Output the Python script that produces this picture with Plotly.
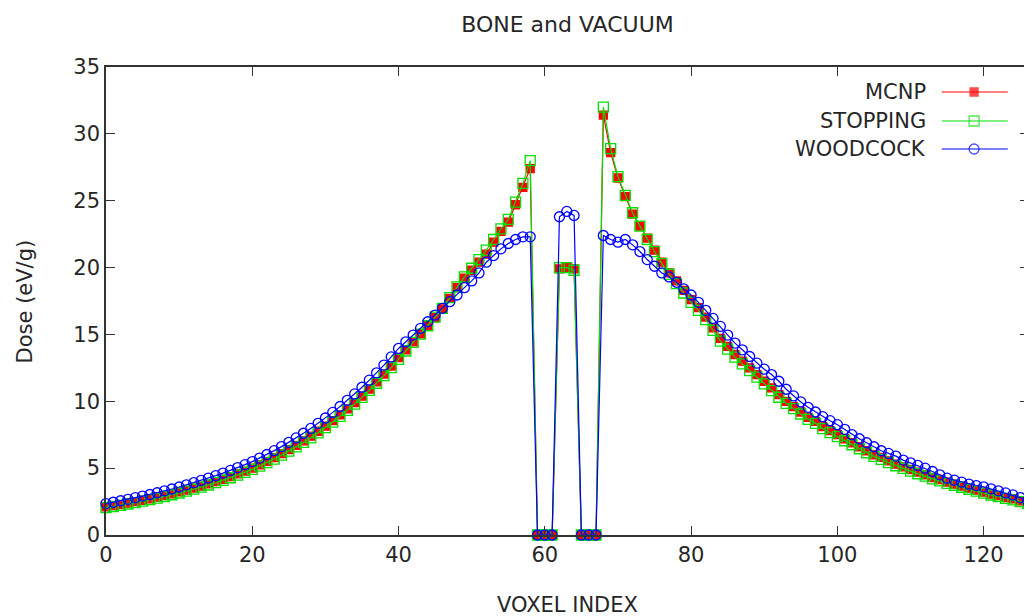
import plotly.graph_objects as go

voxel = list(range(128))

mcnp = [
    2.10, 2.19, 2.28, 2.38, 2.49, 2.60, 2.71, 2.83, 2.95, 3.08,
    3.22, 3.36, 3.51, 3.66, 3.82, 3.99, 4.17, 4.36, 4.57, 4.78,
    5.00, 5.25, 5.51, 5.79, 6.08, 6.38, 6.70, 7.04, 7.39, 7.76,
    8.14, 8.55, 8.98, 9.43, 9.90, 10.39, 10.91, 11.46, 12.03, 12.63,
    13.27, 13.85, 14.45, 15.05, 15.65, 16.25, 16.90, 17.70, 18.50, 19.20,
    19.80, 20.40, 21.00, 21.90, 22.70, 23.40, 24.70, 26.00, 27.40,
    0.0, 0.0, 0.0,
    19.90, 20.00, 19.90,
    0.0, 0.0, 0.0,
    31.40, 28.60, 26.70, 25.30, 24.00, 23.10, 22.20, 21.30, 20.40, 19.60,
    19.00, 18.30, 17.60, 17.00, 16.30, 15.50, 14.70, 14.10, 13.50, 13.00,
    12.50, 12.00, 11.50, 11.00, 10.50, 10.00, 9.60, 9.20, 8.80, 8.50,
    8.10, 7.80, 7.50, 7.20, 6.90, 6.60, 6.30, 6.00, 5.80, 5.55,
    5.30, 5.10, 4.90, 4.70, 4.50, 4.30, 4.15, 3.95, 3.80, 3.65,
    3.50, 3.35, 3.20, 3.05, 2.95, 2.80, 2.70, 2.55, 2.40, 2.30,
]

stopping = [
    2.05, 2.13, 2.22, 2.32, 2.42, 2.53, 2.64, 2.76, 2.88, 3.01,
    3.14, 3.28, 3.43, 3.58, 3.74, 3.91, 4.09, 4.28, 4.48, 4.69,
    4.91, 5.15, 5.41, 5.68, 5.97, 6.27, 6.59, 6.92, 7.27, 7.64,
    8.03, 8.44, 8.87, 9.32, 9.79, 10.29, 10.81, 11.35, 11.92, 12.52,
    13.14, 13.76, 14.40, 15.02, 15.65, 16.30, 16.95, 17.75, 18.55, 19.30,
    19.95, 20.60, 21.30, 22.10, 22.90, 23.60, 24.90, 26.30, 28.00,
    0.0, 0.0, 0.0,
    20.00, 20.00, 19.80,
    0.0, 0.0, 0.0,
    32.00, 28.90, 26.80, 25.40, 24.10, 23.10, 22.10, 21.20, 20.30, 19.50,
    18.80, 18.10, 17.40, 16.80, 16.10, 15.30, 14.50, 13.90, 13.30, 12.80,
    12.30, 11.80, 11.30, 10.80, 10.30, 9.85, 9.45, 9.05, 8.65, 8.35,
    7.95, 7.65, 7.35, 7.05, 6.75, 6.45, 6.15, 5.88, 5.65, 5.42,
    5.18, 4.98, 4.78, 4.58, 4.40, 4.20, 4.05, 3.86, 3.72, 3.57,
    3.42, 3.28, 3.13, 2.99, 2.88, 2.74, 2.63, 2.49, 2.35, 2.25,
]

woodcock = [
    2.35, 2.45, 2.56, 2.67, 2.79, 2.91, 3.03, 3.16, 3.30, 3.44,
    3.59, 3.75, 3.91, 4.08, 4.26, 4.44, 4.63, 4.83, 5.04, 5.26,
    5.49, 5.75, 6.02, 6.31, 6.61, 6.93, 7.26, 7.61, 7.97, 8.35,
    8.75, 9.17, 9.61, 10.07, 10.55, 11.05, 11.58, 12.13, 12.71, 13.32,
    13.95, 14.45, 14.95, 15.45, 15.95, 16.45, 16.95, 17.45, 17.95, 18.50,
    19.00, 19.60, 20.40, 20.90, 21.40, 21.80, 22.10, 22.30, 22.30,
    0.0, 0.0, 0.0,
    23.80, 24.20, 23.90,
    0.0, 0.0, 0.0,
    22.40, 22.10, 21.90, 22.10, 21.70, 21.20, 20.60, 20.10, 19.60, 19.30,
    18.90, 18.40, 17.95, 17.40, 16.80, 16.20, 15.60, 14.95, 14.35, 13.85,
    13.35, 12.85, 12.40, 12.00, 11.50, 10.90, 10.40, 9.95, 9.55, 9.20,
    8.85, 8.55, 8.25, 7.90, 7.50, 7.20, 6.90, 6.60, 6.30, 6.10,
    5.90, 5.60, 5.40, 5.20, 5.00, 4.75, 4.50, 4.25, 4.10, 3.95,
    3.80, 3.70, 3.60, 3.45, 3.30, 3.15, 3.00, 2.80, 2.55, 2.45,
]

series_names = ["MCNP", "STOPPING", "WOODCOCK"]
series_values = [mcnp, stopping, woodcock]
x_ticks = [0, 20, 40, 60, 80, 100, 120]
y_ticks = [0, 5, 10, 15, 20, 25, 30, 35]

styles = [
    dict(color="#ff0000", symbol="square", size=8),
    dict(color="#00e000", symbol="square-open", size=10),
    dict(color="#0000ff", symbol="circle-open", size=10),
]

FONT = "DejaVu Sans"
TXT = "#262626"
AX = "#333333"
FS = 21

fig = go.Figure()
for name, vals, st in zip(series_names, series_values, styles):
    fig.add_trace(go.Scatter(
        x=voxel, y=vals, name=name, mode="lines+markers",
        line=dict(color=st["color"], width=1.2),
        marker=dict(symbol=st["symbol"], size=st["size"], color=st["color"],
                    line=dict(color=st["color"], width=1.3)),
        cliponaxis=False, showlegend=False,
    ))

# custom gnuplot-style legend (text on the left, sample on the right)
leg_y = [0.9466, 0.8846, 0.8248]
for name, st, yy in zip(series_names, styles, leg_y):
    fig.add_trace(go.Scatter(
        x=[0.9055, 0.9405, 0.977], y=[yy, yy, yy], xaxis="x2", yaxis="y2",
        mode="lines+markers",
        line=dict(color=st["color"], width=1.2),
        marker=dict(symbol=st["symbol"], size=[0, st["size"], 0], color=st["color"],
                    line=dict(color=st["color"], width=1.3)),
        showlegend=False, hoverinfo="skip", cliponaxis=False,
    ))
    fig.add_annotation(x=0.891, y=yy, xref="paper", yref="paper", text=name,
                       showarrow=False, xanchor="right", yanchor="middle",
                       font=dict(family=FONT, size=FS, color=TXT))

fig.add_annotation(x=0.5, y=-0.1496, xref="paper", yref="paper", text="VOXEL INDEX",
                   showarrow=False, xanchor="center", yanchor="middle",
                   font=dict(family=FONT, size=FS, color=TXT))
fig.add_annotation(x=-0.0873, y=0.5, xref="paper", yref="paper", text="Dose (eV/g)",
                   showarrow=False, xanchor="center", yanchor="middle", textangle=-90,
                   font=dict(family=FONT, size=FS, color=TXT))

# the page body has a small margin: shrink the figure so the plot box lands
# where the reference puts it
fig.update_layout(
    width=1024, height=608,
    margin=dict(l=98, r=1, t=59, b=81),
    paper_bgcolor="white", plot_bgcolor="white",
    title=dict(text="BONE and VACUUM", x=0.5, xref="paper", xanchor="center",
               y=1 - 16 / 608, yref="container", yanchor="middle",
               font=dict(family=FONT, size=22, color=TXT)),
    font=dict(family=FONT, size=FS, color=TXT),
    xaxis=dict(range=[0, 126.2], tickvals=x_ticks, ticks="inside", ticklen=9,
               tickwidth=1.2, tickcolor=AX, showline=True, linecolor=AX, linewidth=1.5,
               mirror="ticks", showgrid=False, zeroline=False,
               tickfont=dict(family=FONT, size=FS, color=TXT)),
    yaxis=dict(range=[0, 35], tickvals=y_ticks, ticks="inside", ticklen=9,
               tickwidth=1.2, tickcolor=AX, showline=True, linecolor=AX, linewidth=1.5,
               mirror="ticks", showgrid=False, zeroline=False,
               tickfont=dict(family=FONT, size=FS, color=TXT)),
    xaxis2=dict(overlaying="x", range=[0, 1], visible=False, fixedrange=True),
    yaxis2=dict(overlaying="y", range=[0, 1], visible=False, fixedrange=True),
)

fig.write_html("out.html")
